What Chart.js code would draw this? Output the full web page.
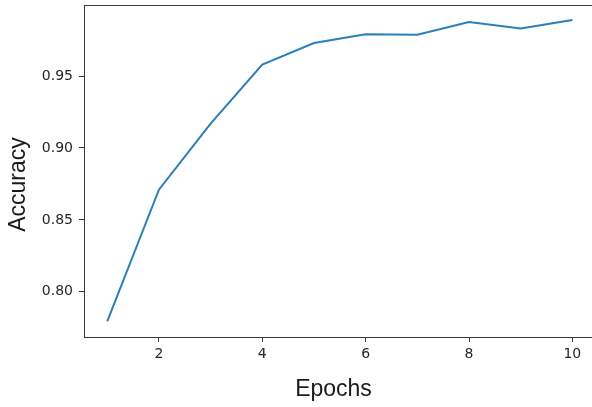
<!DOCTYPE html>
<html>
<head>
<meta charset="utf-8">
<script src="https://cdn.jsdelivr.net/npm/chart.js@4/dist/chart.umd.min.js"></script>
<style>
    html, body { margin: 0; padding: 0; background: #fff; overflow: hidden; }
    #wrap { position: relative; width: 592px; height: 407px; }
</style>
</head>
<body>
<div id="wrap"><canvas id="chart"></canvas></div>
<script>
const epochs = [1, 2, 3, 4, 5, 6, 7, 8, 9, 10];
const accuracy = [0.7794, 0.871, 0.917, 0.958, 0.973, 0.979, 0.9787, 0.9875, 0.983, 0.989];
const xTickValues = [2, 4, 6, 8, 10];
const yTickValues = [0.80, 0.85, 0.90, 0.95];
const xTitle = 'Epochs';
const yTitle = 'Accuracy';

const spineColor = '#3a3a3a';
const tickFont = { family: "'DejaVu Sans'", size: 14 };
const titleFont = "23px 'Liberation Sans', Arial, sans-serif";

// top spine + axis titles, placed like the matplotlib figure
const framePlugin = {
    id: 'frame',
    afterDraw(chart) {
        const { ctx, chartArea } = chart;
        ctx.save();
        ctx.strokeStyle = spineColor;
        ctx.lineWidth = 1;
        ctx.beginPath();
        ctx.moveTo(chartArea.left, chartArea.top + 0.5);
        ctx.lineTo(chartArea.right, chartArea.top + 0.5);
        ctx.stroke();

        ctx.fillStyle = '#1a1a1a';
        ctx.font = titleFont;
        ctx.textAlign = 'center';
        ctx.textBaseline = 'alphabetic';
        ctx.fillText(xTitle, 333.5, 396);

        ctx.translate(25, 184.5);
        ctx.rotate(-Math.PI / 2);
        ctx.fillText(yTitle, 0, 0);
        ctx.restore();
    }
};

function renderChart() {
    const ctx = document.getElementById('chart');

    const chartSpec = {
        type: 'line',
        data: {
            datasets: [
                {
                    label: yTitle,
                    data: epochs.map((e, i) => ({ x: e, y: accuracy[i] })),
                    borderColor: '#2a7fba',
                    borderWidth: 2,
                    pointRadius: 0,
                    tension: 0,
                    fill: false,
                },
            ],
        },
        options: {
            responsive: true,
            maintainAspectRatio: false,
            animation: false,
            layout: {
                padding: { top: 5, right: 0, bottom: 0, left: 0 },
            },
            plugins: {
                legend: { display: false },
                tooltip: { enabled: false },
            },
            scales: {
                x: {
                    type: 'linear',
                    min: 0.55,
                    max: 10.38,
                    afterBuildTicks: (scale) => {
                        scale.ticks = xTickValues.map((v) => ({ value: v }));
                    },
                    afterFit: (scale) => {
                        scale.height = 70;
                        scale.paddingLeft = 0;
                        scale.paddingRight = 0;
                    },
                    grid: {
                        drawOnChartArea: false,
                        drawTicks: true,
                        tickLength: 5,
                        tickColor: spineColor,
                    },
                    border: { display: true, color: spineColor, width: 1 },
                    ticks: {
                        color: '#262626',
                        font: tickFont,
                        padding: 4,
                        maxRotation: 0,
                        callback: (v) => String(v),
                    },
                },
                y: {
                    min: 0.7686,
                    max: 0.9994,
                    afterBuildTicks: (scale) => {
                        scale.ticks = yTickValues.map((v) => ({ value: v }));
                    },
                    afterFit: (scale) => {
                        scale.width = 84;
                        scale.paddingTop = 0;
                        scale.paddingBottom = 0;
                    },
                    grid: {
                        drawOnChartArea: false,
                        drawTicks: true,
                        tickLength: 5,
                        tickColor: spineColor,
                    },
                    border: { display: true, color: spineColor, width: 1 },
                    ticks: {
                        color: '#262626',
                        font: tickFont,
                        padding: 6,
                        callback: (v) => Number(v).toFixed(2),
                    },
                },
            },
        },
        plugins: [framePlugin],
    };

    return new Chart(ctx, chartSpec);
}

renderChart();
</script>
</body>
</html>
